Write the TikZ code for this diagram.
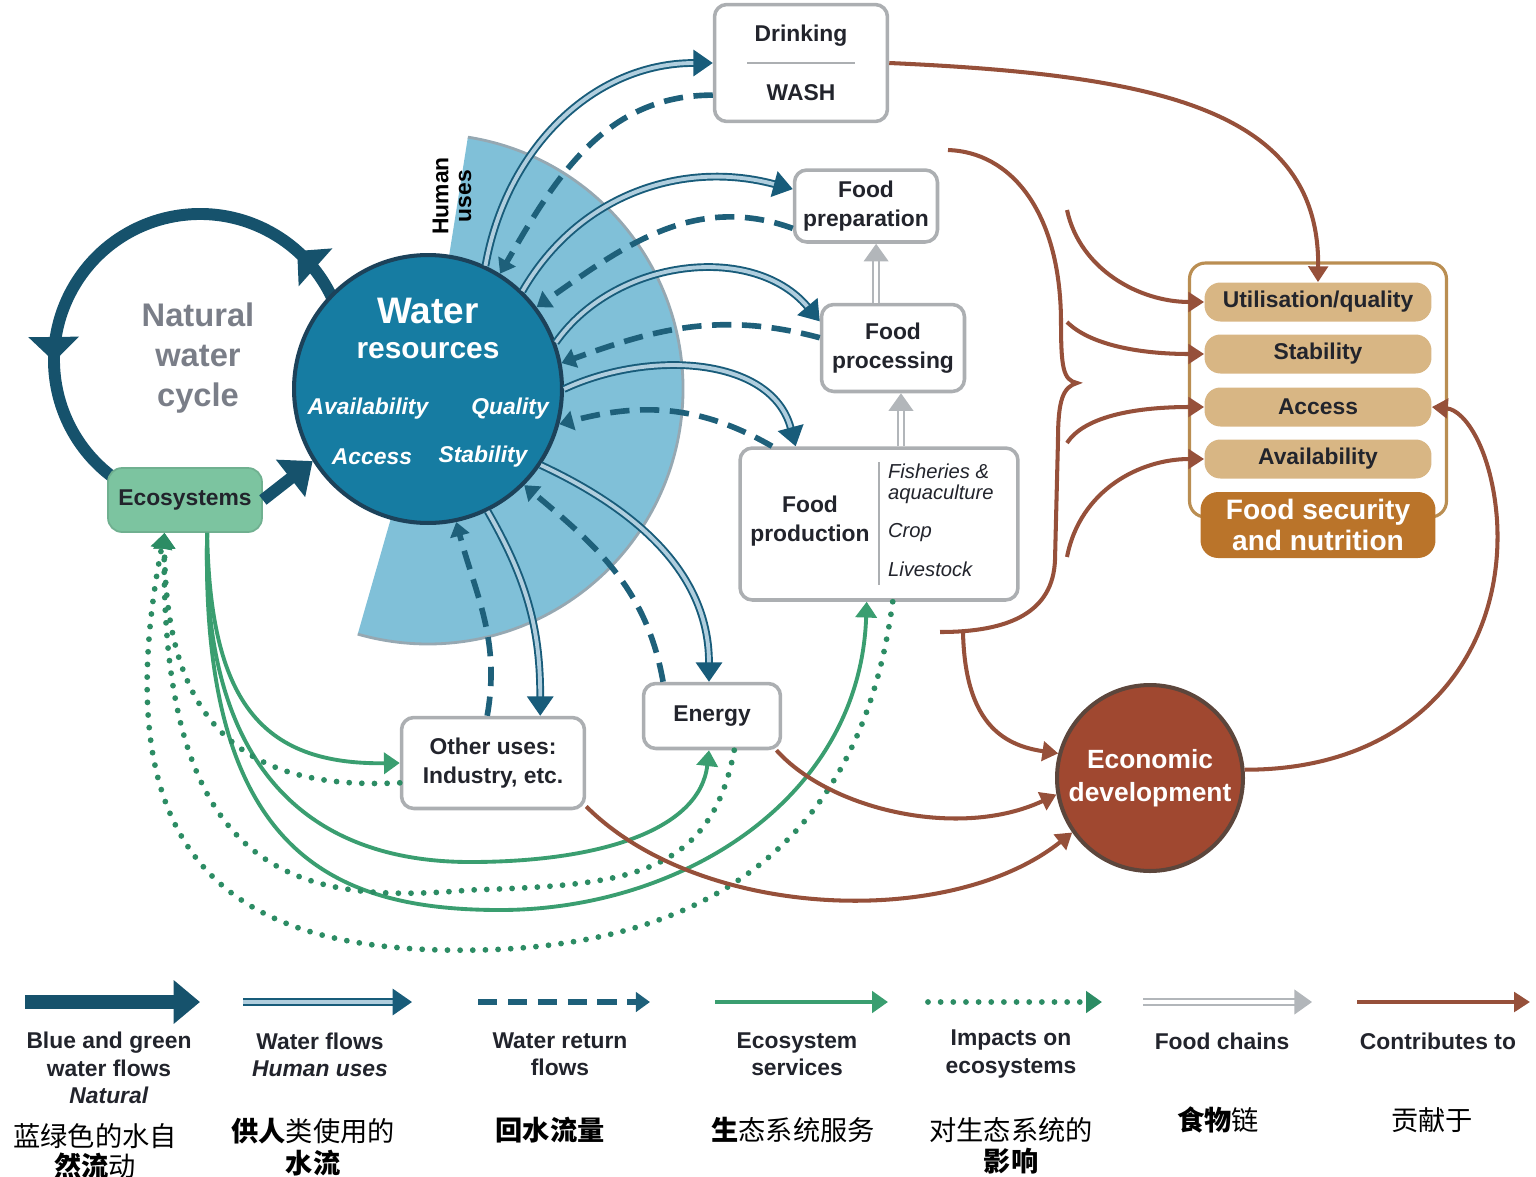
\documentclass[tikz,border=0pt]{standalone}
\usepackage{fontspec}
\setmainfont{Liberation Sans}
\newfontfamily\cjk{Noto Sans CJK SC}
\usepackage{tikz}
\usetikzlibrary{arrows.meta, decorations.markings}
\definecolor{ringblue}{RGB}{22,82,108}
\definecolor{waterfill}{RGB}{22,124,162}
\definecolor{waterrim}{RGB}{28,66,90}
\definecolor{usesblue}{RGB}{128,192,216}
\definecolor{usesrim}{RGB}{150,168,178}
\definecolor{flowblue}{RGB}{24,92,122}
\definecolor{flowpale}{RGB}{176,206,222}
\definecolor{dashblue}{RGB}{30,96,122}
\definecolor{servgreen}{RGB}{58,158,112}
\definecolor{impgreen}{RGB}{44,140,100}
\definecolor{ecogreen}{RGB}{124,196,160}
\definecolor{boxgray}{RGB}{172,175,178}
\definecolor{chaingray}{RGB}{178,182,186}
\definecolor{contribbrown}{RGB}{150,80,58}
\definecolor{pilltan}{RGB}{216,182,132}
\definecolor{fsnorange}{RGB}{186,116,42}
\definecolor{framegold}{RGB}{186,142,82}
\definecolor{econred}{RGB}{160,72,48}
\definecolor{econrim}{RGB}{92,70,60}
\definecolor{natgray}{RGB}{122,126,136}
\definecolor{txtdark}{RGB}{34,36,44}
\newcommand{\bxfont}{\fontsize{13}{16.5}\selectfont\bfseries}
\newcommand{\lgfont}{\fontsize{13}{15.5}\selectfont\bfseries}
\newcommand{\cnfont}{\cjk\fontsize{15.5}{17}\selectfont}
\tikzset{
  usebox/.style={draw=boxgray, line width=2pt, fill=white, rounded corners=7pt,
    text=txtdark, align=center, font=\bxfont},
  ecobox/.style={fill=ecogreen, draw=ecogreen!90!black, line width=1pt, rounded corners=8pt,
    text=txtdark, font=\bxfont, minimum width=3.08cm, minimum height=1.28cm},
  pill/.style={fill=pilltan, rounded corners=9pt, minimum width=4.54cm,
    minimum height=0.78cm, text=txtdark, font=\bxfont},
  fsnpill/.style={fill=fsnorange, rounded corners=10pt, minimum width=4.7cm,
    minimum height=1.32cm, text=white, align=center,
    font=\fontsize{16}{17.5}\selectfont\bfseries},
  fsframe/.style={draw=framegold, line width=1.8pt, rounded corners=9pt,
    minimum width=5.14cm, minimum height=5.08cm},
  watercirc/.style={circle, fill=waterfill, draw=waterrim, line width=2.3pt,
    minimum size=5.36cm, inner sep=0pt},
  econcirc/.style={circle, fill=econred, draw=econrim, line width=2.3pt,
    minimum size=3.72cm, inner sep=0pt, text=white, align=center,
    font=\fontsize{15}{19}\selectfont\bfseries},
  wattr/.style={text=white, font=\fontsize{13}{15}\selectfont\bfseries\itshape},
  sublab/.style={anchor=west, inner sep=1pt, align=left, text=txtdark,
    font=\fontsize{11.5}{12.2}\selectfont\itshape},
  divider/.style={draw=boxgray, line width=1.3pt},
  cycring/.style={draw=ringblue, line width=6.8pt},
  natarrow/.style={draw=ringblue, line width=6.8pt, -{Triangle[width=26pt,length=16pt]}},
  natflow/.style={draw=ringblue, line width=8pt, -{Triangle[width=24pt,length=15pt]}},
  wflow/.style={draw=flowblue, line width=1.1pt, double=flowpale, double distance=2.2pt,
    -{Triangle[width=15pt,length=11pt]}},
  rflow/.style={draw=dashblue, line width=3.2pt, dash pattern=on 11pt off 6pt,
    -{Triangle[width=11pt,length=8pt]}},
  eserv/.style={draw=servgreen, line width=2.2pt, -{Triangle[width=12pt,length=9pt]}},
  eimpact/.style={draw=impgreen, line width=3.3pt, line cap=round,
    dash pattern=on 0pt off 7.2pt, -{Triangle[width=12pt,length=9pt]}},
  foodchain/.style={draw=chaingray, line width=1.1pt, double=white,
    double distance=2.2pt, -{Triangle[width=14pt,length=10pt]}},
  contribline/.style={draw=contribbrown, line width=2.3pt},
  contrib/.style={contribline, -{Triangle[width=11pt,length=9pt]}},
  legtext/.style={align=center, text=txtdark, font=\lgfont},
  cntext/.style={align=center, text=black, font=\cnfont}
}

\begin{document}
\begin{tikzpicture}[x=0.02cm, y=0.02cm]
  \useasboundingbox (0,0) rectangle (1536,-1177);
  % Human uses sector
  \fill[usesblue] (428,-389) -- ++(81:255) arc[start angle=81, end angle=-106, radius=255] -- cycle;
  \draw[usesrim, line width=1.6pt] (428,-389) ++(81:255) arc[start angle=81, end angle=-106, radius=255];
  \node[rotate=90, align=center, text=black, font=\fontsize{13}{13}\selectfont\bfseries] (human) at (452,-196) {Human\\uses};

  % Natural water cycle
  \draw[cycring, postaction=decorate, decoration={markings,
      mark=at position 0.29 with {\arrow{Triangle[width=28pt,length=14pt]}},
      mark=at position 0.78 with {\arrow{Triangle[width=28pt,length=14pt]}}}]
    (200,-360) ++(-30:146) arc[start angle=-30, end angle=240, radius=146];
  \node[align=center, text=natgray, font=\fontsize{18.6}{22.7}\selectfont\bfseries] (natural) at (198,-358) {Natural\\water\\cycle};
  \node[ecobox] (eco) at (185,-500) {Ecosystems};

  % Use boxes
  \node[usebox, minimum width=3.46cm, minimum height=2.34cm] (drink) at (801,-63) {Drinking\\[17pt]WASH};
  \draw[divider] ([xshift=-1.08cm]drink.center) -- ([xshift=1.08cm]drink.center);
  \node[usebox, minimum width=2.86cm, minimum height=1.44cm] (prep) at (866,-206) {Food\\preparation};
  \node[usebox, minimum width=2.86cm, minimum height=1.74cm] (proc) at (893,-348) {Food\\processing};
  \node[usebox, minimum width=5.56cm, minimum height=3.04cm] (prod) at (879,-524) {};
  \draw[divider] ([yshift=1.24cm]prod.center) -- ([yshift=-1.22cm]prod.center);
  \node[text=txtdark, align=center, font=\bxfont] (prodlab) at (810,-521) {Food\\production};
  \node[sublab] (fish) at (886,-484) {Fisheries \&\\aquaculture};
  \node[sublab] (crop) at (886,-533) {Crop};
  \node[sublab] (live) at (886,-569) {Livestock};
  \node[usebox, minimum width=2.74cm, minimum height=1.3cm] (energy) at (712,-716) {Energy};
  \node[usebox, minimum width=3.66cm, minimum height=1.82cm] (other) at (493,-763) {Other uses:\\Industry, etc.};

  % Food chains
  \draw[foodchain] (proc.-80 |- prod.north) -- (proc.-80);
  \draw[foodchain] (prep.-75 |- proc.north) -- (prep.-75);

  % Ecosystem services and impacts
  \draw[eserv] (eco.-56) .. controls (210,-700) and (260,-765) .. (other.west);
  \draw[eserv] (eco.-56) .. controls (200,-790) and (330,-862) .. (470,-862)
    .. controls (600,-862) and (700,-830) .. (energy.-95);
  \draw[eserv] (eco.-56) .. controls (200,-850) and (330,-910) .. (500,-910)
    .. controls (680,-910) and (860,-800) .. (prod.-99);
  \draw[eimpact] (other.192) .. controls (260,-790) and (165,-740) .. (eco.-122);
  \draw[eimpact] (energy.-57) .. controls (710,-880) and (620,-885) .. (470,-890)
    .. controls (300,-905) and (160,-880) .. (eco.-122);
  \draw[eimpact] (prod.-80) .. controls (860,-850) and (700,-945) .. (480,-950)
    .. controls (240,-955) and (100,-870) .. (eco.-122);

  % Water resources
  \node[watercirc] (water) at (428,-389) {};
  \node[text=white, font=\fontsize{21}{24}\selectfont\bfseries] (wt1) at (428,-311) {Water};
  \node[text=white, font=\fontsize{17}{20}\selectfont\bfseries] (wt2) at (428,-351) {resources};
  \node[wattr] (wa1) at (368,-409) {Availability};
  \node[wattr] (wa2) at (510,-409) {Quality};
  \node[wattr] (wa3) at (372,-457) {Access};
  \node[wattr] (wa4) at (483,-457) {Stability};
  \draw[natarrow] (eco.east) -- (water.212);

  % Water flows and return flows
  \draw[wflow] (water.65) to[out=80, in=180] (drink.west);
  \draw[rflow] (drink.200) to[out=180, in=60] (water.58);
  \draw[wflow] (water.46) to[out=60, in=165] (prep.167);
  \draw[rflow] (prep.197) to[out=160, in=35] (water.37);
  \draw[wflow] (water.20) to[out=55, in=130] (proc.160);
  \draw[rflow] (proc.172) to[out=165, in=20] (water.11);
  \draw[wflow] (water.0) to[out=25, in=105] (prod.137);
  \draw[rflow] (prod.144) to[out=150, in=15] (water.-15);
  \draw[wflow] (water.-34) to[out=-25, in=90] (energy.95);
  \draw[rflow] (energy.145) to[out=100, in=-40] (water.-45);
  \draw[wflow] (water.-64) to[out=-60, in=90] (other.45);
  \draw[rflow] (other.97) to[out=80, in=-75] (water.-78);

  % Food security and nutrition
  \node[fsframe] (fsframe) at (1318,-390) {};
  \node[pill] (util) at (1318,-302) {Utilisation/quality};
  \node[pill] (stab) at (1318,-354) {Stability};
  \node[pill] (acc) at (1318,-407) {Access};
  \node[pill] (avail) at (1318,-459) {Availability};
  \node[fsnpill] (fsn) at (1318,-525) {Food security\\and nutrition};

  % Economic development
  \node[econcirc] (econ) at (1150,-778) {Economic\\development};

  % Contributions
  \draw[contribline] (948,-150) .. controls (1010,-152) and (1060,-210) .. (1061,-320)
    .. controls (1061,-368) and (1063,-380) .. (1077,-383)
    .. controls (1063,-387) and (1058,-400) .. (1058,-440) -- (1055,-560)
    .. controls (1053,-612) and (1010,-632) .. (940,-632);
  \coordinate (bracefoot) at (963,-632);
  \coordinate (b1) at (1067,-210);
  \coordinate (b2) at (1067,-322);
  \coordinate (b3) at (1067,-443);
  \coordinate (b4) at (1067,-557);
  \draw[contrib] (drink.east) .. controls (1160,-75) and (1320,-110) .. (util.north);
  \draw[contrib] (b1) .. controls (1080,-270) and (1140,-302) .. (util.west);
  \draw[contrib] (b2) .. controls (1090,-345) and (1140,-354) .. (stab.west);
  \draw[contrib] (b3) .. controls (1085,-415) and (1140,-407) .. (acc.west);
  \draw[contrib] (b4) .. controls (1080,-490) and (1140,-459) .. (avail.west);
  \draw[contrib] (bracefoot) .. controls (965,-720) and (1000,-745) .. (econ.165);
  \draw[contrib] (energy.-28) .. controls (830,-810) and (960,-840) .. (econ.190);
  \draw[contrib] (other.-25) .. controls (700,-920) and (950,-930) .. (econ.215);
  \draw[contrib] (econ.5) .. controls (1420,-770) and (1505,-650) .. (1497,-520)
    .. controls (1492,-450) and (1465,-410) .. (acc.east);

  % Legend
  \foreach \i/\sty/\xa/\xb in {1/natflow/25/200, 2/wflow/243/412, 3/rflow/478/650,
      4/eserv/715/888, 5/eimpact/928/1102, 6/foodchain/1143/1312, 7/contrib/1357/1530} {
    \coordinate (ka\i) at (\xa,-1002);
    \coordinate (kb\i) at (\xb,-1002);
    \draw[\sty] (ka\i) -- (kb\i);
  }
  \node[legtext] (l1) at (109,-1068) {Blue and green\\water flows\\\textit{Natural}};
  \node[legtext] (l2) at (320,-1055) {Water flows\\\textit{Human uses}};
  \node[legtext] (l3) at (560,-1054) {Water return\\flows};
  \node[legtext] (l4) at (797,-1054) {Ecosystem\\services};
  \node[legtext] (l5) at (1011,-1054) {Impacts on\\ecosystems};
  \node[legtext] (l6) at (1222,-1041) {Food chains};
  \node[legtext] (l7) at (1438,-1041) {Contributes to};
  \node[cntext] (c1) at (95,-1151) {蓝绿色的水自\\{\bfseries 然流}动};
  \node[cntext] (c2) at (313,-1147) {{\bfseries 供人}类使用的\\[1pt]{\bfseries 水流}};
  \node[cntext] (c3) at (550,-1130) {\bfseries 回水流量};
  \node[cntext] (c4) at (793,-1130) {{\bfseries 生}态系统服务};
  \node[cntext] (c5) at (1011,-1146) {对生态系统的\\[1pt]{\bfseries 影响}};
  \node[cntext] (c6) at (1218,-1120) {{\bfseries 食物}链};
  \node[cntext] (c7) at (1432,-1120) {贡献于};
\end{tikzpicture}
\end{document}
